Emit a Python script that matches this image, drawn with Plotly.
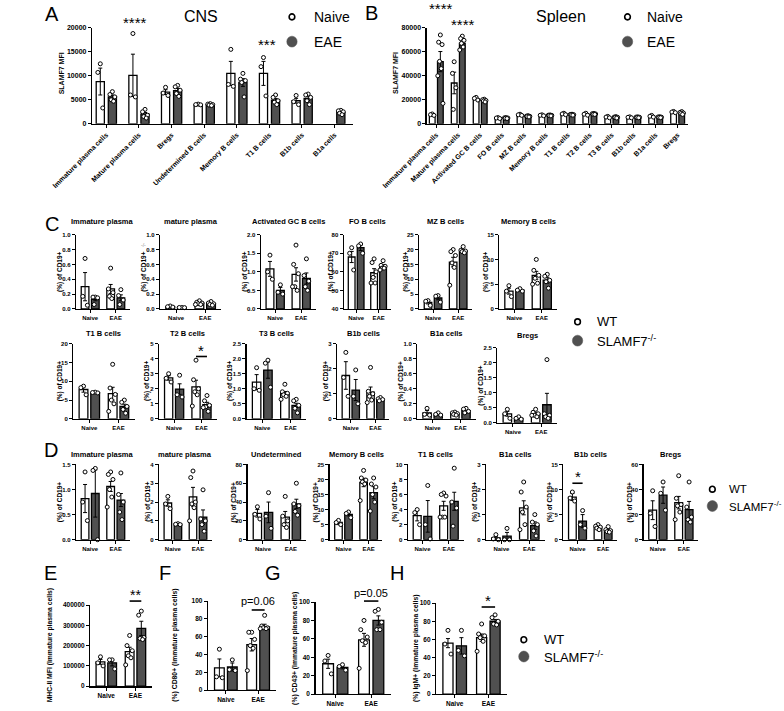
import plotly.graph_objects as go

W, H = 784, 711
FONT = "Liberation Sans"
DARK = "#505050"

# ---------------- Panel A : CNS, SLAMF7 MFI ----------------
A_CATS = ["Immature plasma cells", "Mature plasma cells", "Bregs", "Undetermined B cells",
          "Memory B cells", "T1 B cells", "B1b cells", "B1a cells"]
A_NAIVE_MEAN = [8800, 10100, 6600, 4000, 10500, 10500, 4800, None]
A_NAIVE_SEM = [2800, 4400, 500, 100, 2500, 2500, 500, None]
A_NAIVE_PTS = [[12500, 10700, 3300], [18800, 6000, 5600], [7600, 6400, 5900], [4100, 4000, 3950],
               [15500, 8200, 7800], [13800, 11900, 5800], [5900, 4600, 4000], []]
A_EAE_MEAN = [5600, 2000, 6900, 4000, 8600, 4900, 5300, 2400]
A_EAE_SEM = [400, 350, 450, 80, 800, 350, 450, 170]
A_EAE_PTS = [[6700, 6100, 5600, 5000, 4700], [3000, 2500, 1800, 1500, 1200], [8000, 7700, 7000, 6300, 5700],
             [4200, 4100, 4000, 3900, 3800], [10500, 9300, 9000, 8600, 5600], [6000, 5500, 4800, 4500, 4000],
             [6200, 6000, 5500, 4800, 4000], [2800, 2700, 2500, 2200, 1900]]

# ---------------- Panel B : Spleen, SLAMF7 MFI ----------------
B_CATS = ["Immature plasma cells", "Mature plasma cells", "Activated GC B cells", "FO B cells", "MZ B cells",
          "Memory B cells", "T1 B cells", "T2 B cells", "T3 B cells", "B1b cells", "B1a cells", "Bregs"]
B_NAIVE_MEAN = [7600, 34000, 21000, 4800, 7500, 7100, 8200, 8000, 5600, 5400, 6300, 9800]
B_NAIVE_SEM = [500, 9000, 600, 300, 400, 300, 500, 600, 400, 300, 500, 400]
B_NAIVE_PTS = [[8200, 7600, 7000], [51700, 42000, 30000, 12000], [22000, 21200, 19800], [5200, 4800, 4400],
               [8000, 7500, 7000], [7500, 7100, 6700], [8800, 8200, 7600], [8800, 8000, 7200],
               [6200, 5600, 5000], [5800, 5400, 5000], [7000, 6300, 5600], [10300, 9800, 9300]]
B_EAE_MEAN = [51800, 67000, 19400, 4800, 6200, 7000, 7600, 8200, 5400, 5400, 5500, 9000]
B_EAE_SEM = [8400, 1400, 400, 200, 300, 300, 300, 300, 400, 300, 300, 600]
B_EAE_PTS = [[74000, 68000, 66000, 52000, 46000, 40000, 17000], [73000, 71000, 69500, 67000, 64000, 61500],
             [20500, 20000, 19400, 19000, 18200], [5200, 5000, 4800, 4600, 4400], [6800, 6400, 6200, 6000, 5700],
             [7400, 7200, 7000, 6800, 6600], [8000, 7800, 7600, 7400, 7200], [8600, 8400, 8200, 8000, 7800],
             [6000, 5600, 5400, 5200, 4800], [5800, 5600, 5400, 5200, 5000], [5900, 5700, 5500, 5300, 5100],
             [10200, 9500, 9000, 8500, 7800]]

# ---------------- Panel C : spleen subsets (% of CD19+) ----------------
# order in each list: WT Naive, SLAMF7-/- Naive, WT EAE, SLAMF7-/- EAE
GROUPS = ["Naive", "EAE"]
C_TITLES = ["Immature plasma", "mature plasma", "Activated GC B cells", "FO B cells", "MZ B cells", "Memory B cells",
            "T1 B cells", "T2 B cells", "T3 B cells", "B1b cells", "B1a cells", "Bregs"]
C_IMM_MEAN = [0.30, 0.13, 0.27, 0.15]
C_IMM_SEM = [0.19, 0.02, 0.06, 0.04]
C_IMM_PTS = [[0.68, 0.17, 0.05], [0.16, 0.16, 0.15, 0.06], [0.55, 0.27, 0.22, 0.17, 0.14], [0.26, 0.18, 0.12, 0.06]]
C_MAT_MEAN = [0.03, 0.02, 0.08, 0.07]
C_MAT_SEM = [0.005, 0.002, 0.01, 0.008]
C_MAT_PTS = [[0.04, 0.03, 0.025], [0.02, 0.02, 0.018], [0.11, 0.09, 0.08, 0.07, 0.06, 0.06], [0.10, 0.08, 0.07, 0.06, 0.05]]
C_GC_MEAN = [1.08, 0.50, 0.93, 0.82]
C_GC_SEM = [0.20, 0.08, 0.18, 0.15]
C_GC_PTS = [[1.45, 1.0, 0.8], [0.65, 0.45, 0.4], [1.72, 1.2, 0.95, 0.6, 0.5, 0.6], [1.35, 0.9, 0.75, 0.6, 0.5]]
C_FO_MEAN = [68, 73, 59.5, 63]
C_FO_SEM = [3, 1.5, 2.2, 0.8]
C_FO_PTS = [[73, 70, 61], [75, 74, 70], [67, 65, 60, 57, 54, 54], [66, 63.5, 63, 62, 62, 61]]
C_MZ_MEAN = [2.2, 3.7, 15.8, 19.5]
C_MZ_SEM = [0.5, 0.6, 1.6, 0.4]
C_MZ_PTS = [[2.8, 2.6, 1.2], [4.5, 4.3, 2.3], [20, 19.3, 18, 15.5, 14, 8], [21, 19.8, 19.5, 19.3, 18.9]]
C_MEM_MEAN = [3.6, 3.8, 6.8, 5.8]
C_MEM_SEM = [0.6, 0.15, 0.8, 0.6]
C_MEM_PTS = [[4.7, 3.6, 2.5], [4.1, 3.8, 3.6], [10, 7.8, 6.8, 6.2, 5.2, 5.0], [7.0, 6.6, 5.8, 5.5, 4.2]]
C_T1_MEAN = [7.8, 7.0, 6.7, 3.3]
C_T1_SEM = [0.7, 0.1, 1.7, 0.6]
C_T1_PTS = [[8.7, 8.3, 6.4], [7.1, 7.0, 6.9], [14.5, 8.2, 6.5, 5.0, 4.0, 2.0], [5.0, 4.4, 3.3, 2.5, 1.5]]
C_T2_MEAN = [2.72, 1.98, 2.12, 0.95]
C_T2_SEM = [0.15, 0.35, 0.45, 0.15]
C_T2_PTS = [[3.0, 2.7, 2.45], [2.9, 1.6, 1.45], [3.9, 2.6, 2.0, 1.8, 1.6, 0.85], [1.55, 1.2, 0.9, 0.8, 0.5, 0.75]]
C_T3_MEAN = [1.22, 1.62, 0.85, 0.45]
C_T3_SEM = [0.25, 0.27, 0.06, 0.07]
C_T3_PTS = [[1.7, 1.0, 0.95], [1.95, 1.85, 1.05], [1.15, 0.9, 0.85, 0.8, 0.75, 0.65], [0.65, 0.6, 0.45, 0.35, 0.2]]
C_B1B_MEAN = [1.73, 1.15, 1.07, 0.78]
C_B1B_SEM = [0.55, 0.42, 0.2, 0.03]
C_B1B_PTS = [[2.65, 1.65, 0.9], [1.95, 0.9, 0.6], [2.05, 1.1, 1.0, 0.9, 0.75, 0.65], [0.85, 0.8, 0.77, 0.72]]
C_B1A_MEAN = [0.08, 0.06, 0.07, 0.11]
C_B1A_SEM = [0.03, 0.01, 0.01, 0.015]
C_B1A_PTS = [[0.14, 0.06, 0.05], [0.08, 0.06, 0.05], [0.09, 0.08, 0.07, 0.06, 0.05], [0.14, 0.13, 0.10, 0.08]]
C_BREG_MEAN = [0.30, 0.15, 0.30, 0.60]
C_BREG_SEM = [0.08, 0.03, 0.05, 0.38]
C_BREG_PTS = [[0.45, 0.3, 0.15], [0.2, 0.15, 0.12], [0.45, 0.35, 0.3, 0.25, 0.2, 0.25], [2.1, 0.3, 0.25, 0.2, 0.15]]

# ---------------- Panel D : CNS subsets (% of CD19+) ----------------
D_TITLES = ["Immature plasma", "mature plasma", "Undetermined", "Memory B cells",
            "T1 B cells", "B1a cells", "B1b cells", "Bregs"]
D_IMM_MEAN = [0.82, 0.92, 1.06, 0.79]
D_IMM_SEM = [0.28, 0.47, 0.10, 0.13]
D_IMM_PTS = [[1.35, 0.75, 0.38], [1.42, 1.38, 0.0], [1.35, 1.3, 1.2, 1.0, 0.85, 0.65], [1.33, 0.9, 0.75, 0.55, 0.4]]
D_MAT_MEAN = [1.95, 0.82, 2.28, 1.2]
D_MAT_SEM = [0.17, 0.02, 0.5, 0.38]
D_MAT_PTS = [[2.3, 1.9, 1.65], [0.85, 0.82, 0.8], [3.65, 3.3, 2.0, 1.9, 1.7, 1.0], [2.65, 1.1, 1.0, 0.8, 0.45]]
D_UND_MEAN = [28, 29, 24, 38]
D_UND_SEM = [4, 11, 6, 5]
D_UND_PTS = [[35, 27, 22], [50, 25, 12], [46, 25, 20, 16, 13], [60, 38, 36, 30, 26]]
D_MEM_MEAN = [5.7, 8.4, 19.0, 15.6]
D_MEM_SEM = [0.7, 0.5, 1.4, 2.0]
D_MEM_PTS = [[6.4, 5.7, 5.0], [9.2, 8.7, 7.3], [23, 20.5, 19.8, 19.2, 18.5, 13], [20.5, 18.5, 17.5, 15, 12.5, 9.5]]
D_T1_MEAN = [3.2, 3.1, 4.5, 5.1]
D_T1_SEM = [0.7, 2.1, 0.6, 1.2]
D_T1_PTS = [[4.0, 3.6, 2.0], [7.2, 2.0, 0.1], [6.2, 6.0, 5.8, 3.0, 3.0, 3.0], [9.5, 5.0, 4.2, 1.8]]
D_B1A_MEAN = [0.07, 0.14, 1.27, 0.56]
D_B1A_SEM = [0.05, 0.15, 0.28, 0.15]
D_B1A_PTS = [[0.2, 0.03, 0.0], [0.45, 0.0, 0.0], [2.3, 1.9, 1.3, 1.1, 0.6, 0.4], [1.0, 0.7, 0.6, 0.35, 0.15]]
D_B1B_MEAN = [8.5, 3.7, 2.5, 1.9]
D_B1B_SEM = [0.7, 1.3, 0.2, 0.2]
D_B1B_PTS = [[9.5, 8.3, 7.7], [5.8, 3.0, 2.3], [3.0, 2.7, 2.5, 2.3, 2.0], [2.6, 2.0, 1.8, 1.6, 1.5]]
D_BREG_MEAN = [23.5, 35.5, 29.5, 24]
D_BREG_SEM = [7.5, 6.5, 5.0, 6.5]
D_BREG_PTS = [[39, 21, 10.5], [46, 37, 23.5], [51, 33, 28, 27, 22, 16], [46, 26, 18, 16, 14]]

# ---------------- Panels E-H : immature plasma cells ----------------
E_MEAN = [120000, 115000, 170000, 285000]
E_SEM = [12000, 15000, 22000, 35000]
E_PTS = [[145000, 115000, 100000], [130000, 130000, 85000], [250000, 200000, 175000, 150000, 140000, 105000],
         [370000, 350000, 240000, 235000, 230000]]
F_MEAN = [25, 26, 51, 71]
F_SEM = [10, 4.5, 7, 3]
F_PTS = [[46, 15, 14], [34, 23, 22], [65, 65, 57, 50, 47, 22], [84, 72, 70, 70, 69, 69]]
G_MEAN = [33, 29, 59, 80]
G_SEM = [5, 1.5, 7, 5]
G_PTS = [[42, 36, 22], [32, 30, 26], [80, 70, 62, 58, 56, 28], [92, 90, 78, 70, 70]]
H_MEAN = [56, 53, 62, 80]
H_SEM = [5, 9, 4, 2]
H_PTS = [[70, 55, 44], [70, 48, 42], [77, 66, 64, 62, 58, 47], [87, 84, 80, 77, 76]]

# =====================================================================
fig = go.Figure()
LAYOUT = {}
ANN = []
SHP = []
PANELS = []
JIT = [0.0, -0.5, 0.5, -0.25, 0.25, -0.75, 0.75, 0.0]


def ann(text, x, y, size, bold=False, angle=0, xanchor="center", color="black", family=FONT):
    ANN.append(dict(text=("<b>%s</b>" % text) if bold else text, x=x / W, y=1 - y / H, xref="paper", yref="paper",
                    xanchor=xanchor, yanchor="middle", showarrow=False, textangle=angle,
                    font=dict(family=family, size=size, color=color)))


def add_panel(box, cats, means, sems, pts, yrange, dtick, fmt, xrange, offs, bw, tfs, angle=0, ms=4):
    n = len(PANELS) + 1
    PANELS.append((box, xrange, yrange))
    xa, ya = ("x", "y") if n == 1 else ("x%d" % n, "y%d" % n)
    fills = ["white", DARK]
    for s in range(2):
        xs = [i + offs[s] for i, m in enumerate(means[s]) if m is not None]
        ys = [m for m in means[s] if m is not None]
        es = [e for m, e in zip(means[s], sems[s]) if m is not None]
        fig.add_trace(go.Bar(x=xs, y=ys, width=bw, xaxis=xa, yaxis=ya, showlegend=False, hoverinfo="skip",
                             marker=dict(color=fills[s], line=dict(color="black", width=1.3)),
                             error_y=dict(type="data", array=es, color="black", thickness=1, width=2)))
    for s in range(2):
        xs, ys = [], []
        for i, group in enumerate(pts[s]):
            for j, v in enumerate(group):
                xs.append(i + offs[s] + JIT[j % len(JIT)] * bw * 0.6)
                ys.append(v)
        fig.add_trace(go.Scatter(x=xs, y=ys, mode="markers", xaxis=xa, yaxis=ya, showlegend=False,
                                 cliponaxis=False, hoverinfo="skip",
                                 marker=dict(symbol="circle", size=ms, color="white",
                                             line=dict(color="black", width=1))))
    x0, x1, yt, yb = box
    common = dict(showline=True, linecolor="black", linewidth=1.3, ticks="outside", ticklen=3, tickwidth=1,
                  tickcolor="black", showgrid=False, zeroline=False, fixedrange=True,
                  ticklabeloverflow="allow",
                  tickfont=dict(family=FONT, size=tfs, color="black", weight="bold"))
    LAYOUT["xaxis" if n == 1 else "xaxis%d" % n] = dict(domain=[x0 / W, x1 / W], anchor=ya, range=xrange,
                                                        tickmode="array", tickvals=list(range(len(cats))),
                                                        ticktext=cats, tickangle=angle, **common)
    LAYOUT["yaxis" if n == 1 else "yaxis%d" % n] = dict(domain=[1 - yb / H, 1 - yt / H], anchor=xa, range=yrange,
                                                        tickmode="linear", tick0=yrange[0], dtick=dtick,
                                                        tickformat=fmt, **common)
    return n


def to_px(n, x):
    (x0, x1, yt, yb), xr, yr = PANELS[n - 1]
    return x0 + (x - xr[0]) / (xr[1] - xr[0]) * (x1 - x0)


def small(box, title, mean, sem, pts, yrange, dtick, fmt, title_y, ylab="(%) of CD19+", tfs=6, ylab_size=6.5,
          ylab_dx=17, title_size=7.5):
    n = add_panel(box, GROUPS, [[mean[0], mean[2]], [mean[1], mean[3]]], [[sem[0], sem[2]], [sem[1], sem[3]]],
                  [[pts[0], pts[2]], [pts[1], pts[3]]], yrange, dtick, fmt, [-0.55, 1.55], [-0.2, 0.2], 0.3, tfs)
    x0, x1, yt, yb = box
    if title:
        ann(title, (x0 + x1) / 2, title_y, title_size, bold=True)
    ann(ylab, x0 - ylab_dx, (yt + yb) / 2, ylab_size, bold=True, angle=-90)
    return n


def sig(n, xa, xb, yline, text, ytext, size):
    SHP.append(dict(type="line", xref="paper", yref="paper", x0=to_px(n, xa) / W, x1=to_px(n, xb) / W,
                    y0=1 - yline / H, y1=1 - yline / H, line=dict(color="black", width=1.6)))
    ann(text, (to_px(n, xa) + to_px(n, xb)) / 2, ytext, size)


def legend_pair(x, y1, y2, t1, t2, size, r_open=3, r_fill=5.5, dx=17):
    SHP.append(dict(type="circle", xref="paper", yref="paper", x0=(x - r_open) / W, x1=(x + r_open) / W,
                    y0=1 - (y1 + r_open) / H, y1=1 - (y1 - r_open) / H, line=dict(color="black", width=1.6),
                    fillcolor="white"))
    SHP.append(dict(type="circle", xref="paper", yref="paper", x0=(x - r_fill) / W, x1=(x + r_fill) / W,
                    y0=1 - (y2 + r_fill) / H, y1=1 - (y2 - r_fill) / H, line=dict(color=DARK, width=0.5),
                    fillcolor=DARK))
    ann(t1, x + dx, y1, size, xanchor="left")
    ann(t2, x + dx, y2, size, xanchor="left")


# ---- A ----
add_panel((50, 327, 24, 121), A_CATS, [A_NAIVE_MEAN, A_EAE_MEAN], [A_NAIVE_SEM, A_EAE_SEM],
          [A_NAIVE_PTS, A_EAE_PTS], [0, 20000], 5000, "d", [-0.43, 7.57], [-0.18, 0.19], 0.25, 7, angle=-45)
ann("SLAMF7 MFI", 17, 70, 7, bold=True, angle=-90)
ann("CNS", 165, 13, 16)
ann("****", 95, 19, 15)
ann("***", 235, 41, 15)
legend_pair(262, 13, 38, "Naive", "EAE", 14, r_open=3, r_fill=5.5, dx=21)

# ---- B ----
add_panel((405, 682, 24, 121), B_CATS, [B_NAIVE_MEAN, B_EAE_MEAN], [B_NAIVE_SEM, B_EAE_SEM],
          [B_NAIVE_PTS, B_EAE_PTS], [0, 80000], 20000, "d", [-0.43, 11.47], [-0.18, 0.19], 0.26, 7, angle=-45)
ann("SLAMF7 MFI", 372, 70, 7, bold=True, angle=-90)
ann("Spleen", 547, 13, 16)
ann("****", 420, 5, 15)
ann("****", 443, 21, 15)
legend_pair(618, 13, 38, "Naive", "EAE", 14, r_open=3, r_fill=5.5, dx=19)

# ---- C ----
R1T, R1B, R1Y = 233, 308, 220
small((33, 90, R1T, R1B), C_TITLES[0], C_IMM_MEAN, C_IMM_SEM, C_IMM_PTS, [0, 1.0], 0.2, ".1f", R1Y)
small((122, 187, R1T, R1B), C_TITLES[1], C_MAT_MEAN, C_MAT_SEM, C_MAT_PTS, [0, 1.0], 0.2, ".1f", R1Y)
small((229, 287, R1T, R1B), C_TITLES[2], C_GC_MEAN, C_GC_SEM, C_GC_PTS, [0, 2.0], 0.5, ".1f", R1Y)
small((317, 367, R1T, R1B), C_TITLES[3], C_FO_MEAN, C_FO_SEM, C_FO_PTS, [40, 80], 10, "d", R1Y, ylab_dx=14)
small((397, 453, R1T, R1B), C_TITLES[4], C_MZ_MEAN, C_MZ_SEM, C_MZ_PTS, [0, 25], 5, "d", R1Y, ylab_dx=14)
small((482, 543, R1T, R1B), C_TITLES[5], C_MEM_MEAN, C_MEM_SEM, C_MEM_PTS, [0, 15], 5, "d", R1Y, ylab_dx=14)
ann("-/-", 104, 243, 5, color="#888888")
R2T, R2B, R2Y = 343, 419, 333
small((30, 95, R2T, R2B), C_TITLES[6], C_T1_MEAN, C_T1_SEM, C_T1_PTS, [0, 20], 5, "d", R2Y, ylab_dx=14)
nT2 = small((121, 182, R2T, R2B), C_TITLES[7], C_T2_MEAN, C_T2_SEM, C_T2_PTS, [0, 5], 1, "d", R2Y, ylab_dx=12)
small((214, 277, R2T, R2B), C_TITLES[8], C_T3_MEAN, C_T3_SEM, C_T3_PTS, [0, 2.5], 0.5, ".1f", R2Y)
small((310, 365, R2T, R2B), C_TITLES[9], C_B1B_MEAN, C_B1B_SEM, C_B1B_PTS, [0, 3], 1, "d", R2Y, ylab_dx=12)
small((395, 457, R2T, R2B), C_TITLES[10], C_B1A_MEAN, C_B1A_SEM, C_B1A_PTS, [0, 1.0], 0.2, ".1f", R2Y)
small((480, 543, 347, 423), C_TITLES[11], C_BREG_MEAN, C_BREG_SEM, C_BREG_PTS, [0, 2.5], 0.5, ".1f", 335)
sig(nT2, 0.8, 1.2, 356, "*", 350, 15)
legend_pair(565, 321, 340, "WT", "SLAMF7<sup>-/-</sup>", 13, r_open=3, r_fill=5.5, dx=18)

# ---- D ----
DT, DB, DY = 465, 541, 455
small((33, 90, DT, DB), D_TITLES[0], D_IMM_MEAN, D_IMM_SEM, D_IMM_PTS, [0, 1.5], 0.5, ".1f", DY)
small((121, 177, DT, DB), D_TITLES[1], D_MAT_MEAN, D_MAT_SEM, D_MAT_PTS, [0, 4], 1, "d", DY, ylab_dx=12)
small((215, 277, DT, DB), D_TITLES[2], D_UND_MEAN, D_UND_SEM, D_UND_PTS, [0, 80], 20, "d", DY, ylab_dx=14)
small((302, 358, DT, DB), D_TITLES[3], D_MEM_MEAN, D_MEM_SEM, D_MEM_PTS, [0, 25], 5, "d", DY, ylab_dx=14)
small((385, 444, DT, DB), D_TITLES[4], D_T1_MEAN, D_T1_SEM, D_T1_PTS, [0, 10], 2, "d", DY, ylab_dx=14)
small((468, 530, DT, DB), D_TITLES[5], D_B1A_MEAN, D_B1A_SEM, D_B1A_PTS, [0, 3], 1, "d", DY, ylab_dx=12)
nB1b = small((550, 607, DT, DB), D_TITLES[6], D_B1B_MEAN, D_B1B_SEM, D_B1B_PTS, [0, 15], 5, "d", DY, ylab_dx=14)
small((635, 693, DT, DB), D_TITLES[7], D_BREG_MEAN, D_BREG_SEM, D_BREG_PTS, [0, 60], 20, "d", DY, ylab_dx=14)
sig(nB1b, -0.2, 0.2, 484, "*", 477, 15)
legend_pair(708, 490, 507, "WT", "SLAMF7<sup>-/-</sup>", 11.5, r_open=3, r_fill=5.5, dx=16)

# ---- E-H ----
nE = small((48, 113, 607, 689), None, E_MEAN, E_SEM, E_PTS, [0, 400000], 100000, "d", 0,
           ylab="MHC-II MFI (Immature plasma cells)", tfs=6.5, ylab_size=6.8, ylab_dx=43)
nF = small((173, 245, 603, 693), None, F_MEAN, F_SEM, F_PTS, [0, 100], 20, "d", 0,
           ylab="(%) CD80+ (Immature plasma cells)", tfs=6.5, ylab_size=6.8, ylab_dx=35)
nG = small((287, 367, 604, 697), None, G_MEAN, G_SEM, G_PTS, [0, 100], 20, "d", 0,
           ylab="(%) CD43+ (Immature plasma cells)", tfs=6.5, ylab_size=6.8, ylab_dx=22)
nH = small((415, 490, 605, 697), None, H_MEAN, H_SEM, H_PTS, [0, 100], 20, "d", 0,
           ylab="(%) IgM+ (Immature plasma cells)", tfs=6.5, ylab_size=6.8, ylab_dx=22)
sig(nE, 0.8, 1.2, 603, "**", 597, 14)
sig(nF, 0.8, 1.2, 612, "p=0.06", 603, 11)
sig(nG, 0.8, 1.2, 603, "p=0.05", 595, 11)
sig(nH, 0.8, 1.2, 609, "*", 602, 15)
legend_pair(508, 642, 659, "WT", "SLAMF7<sup>-/-</sup>", 13, r_open=3, r_fill=5.5, dx=19)

# ---- panel letters ----
for letter, lx, ly in [("A", 7, 10), ("B", 346, 9), ("C", 7, 222), ("D", 6, 450),
                       ("E", 6, 575), ("F", 127, 575), ("G", 242, 575), ("H", 373, 575)]:
    ann(letter, lx, ly, 20)

fig.update_layout(width=W, height=H, margin=dict(l=0, r=0, t=0, b=0), paper_bgcolor="white",
                  plot_bgcolor="white", showlegend=False, bargap=0, annotations=ANN, shapes=SHP,
                  font=dict(family=FONT, color="black"), **LAYOUT)
fig.write_html("out.html", config={"displayModeBar": False, "staticPlot": True},
               post_script="document.body.style.margin='0';document.body.style.overflow='hidden';")
